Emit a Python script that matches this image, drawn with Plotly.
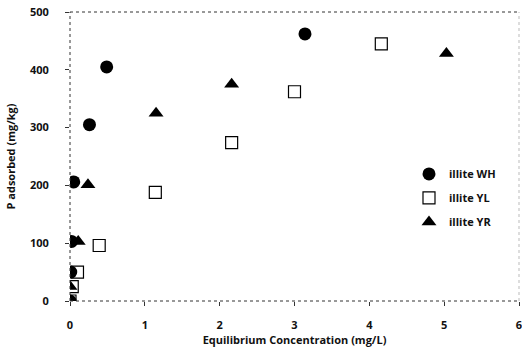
import plotly.graph_objects as go

# Data
wh_x = [0.0, 0.01, 0.02, 0.05, 0.26, 0.49, 3.14]
wh_y = [0, 50, 103, 206, 305, 405, 462]

yl_x = [0.0, 0.03, 0.10, 0.39, 1.14, 2.16, 3.00, 4.16]
yl_y = [0, 25, 50, 96, 188, 274, 362, 445]

yr_x = [0.0, 0.0, 0.11, 0.24, 1.15, 2.16, 5.03]
yr_y = [0, 25, 103, 201, 325, 375, 428]

series_names = ["illite WH", "illite YL", "illite YR"]
x_ticks = [0, 1, 2, 3, 4, 5, 6]
y_ticks = [0, 100, 200, 300, 400, 500]

FONT = "Open Sans"

fig = go.Figure()
fig.add_trace(go.Scatter(x=wh_x, y=wh_y, mode="markers", name=series_names[0],
                         legendgroup="a",
                         marker=dict(symbol="circle", size=13, color="black")))
fig.add_trace(go.Scatter(x=yl_x, y=yl_y, mode="markers", name=series_names[1],
                         legendgroup="b",
                         marker=dict(symbol="square-open", size=12, color="black",
                                     line=dict(width=1.2, color="black"))))
fig.add_trace(go.Scatter(x=yr_x, y=yr_y, mode="markers", name=series_names[2],
                         legendgroup="c",
                         marker=dict(symbol="triangle-up", size=13, color="black")))

axis_common = dict(showgrid=False, zeroline=False, showline=False,
                   ticks="outside", ticklen=4, tickcolor="#333",
                   ticklabeloverflow="allow", automargin=False,
                   tickfont=dict(family=FONT, size=11, color="#111", weight="bold"))

fig.update_layout(
    width=522, height=357,
    margin=dict(l=70, r=3, t=12, b=56),
    paper_bgcolor="white", plot_bgcolor="white",
    font=dict(family=FONT, color="#111"),
    xaxis=dict(range=[0, 6], tickvals=x_ticks, ticklabelstandoff=10,
               title=dict(text="Equilibrium Concentration (mg/L)", standoff=4,
                          font=dict(family=FONT, size=11, weight="bold", color="#111")),
               **axis_common),
    yaxis=dict(range=[0, 500], tickvals=y_ticks, ticklabelstandoff=14,
               title=dict(text="P adsorbed (mg/kg)", standoff=12,
                          font=dict(family=FONT, size=11, weight="bold", color="#111")),
               **axis_common),
    legend=dict(x=0.755, y=0.49, xanchor="left", yanchor="top",
                traceorder="grouped", tracegroupgap=5,
                itemwidth=30, bgcolor="rgba(0,0,0,0)",
                font=dict(family=FONT, size=11, weight="bold", color="#111")),
    shapes=[
        dict(type="line", xref="paper", yref="paper", x0=0, x1=0, y0=0, y1=1,
             line=dict(color="#333", width=1, dash="dot")),
        dict(type="line", xref="paper", yref="paper", x0=0, x1=1, y0=0, y1=0,
             line=dict(color="#333", width=1, dash="dot")),
        dict(type="line", xref="paper", yref="paper", x0=0, x1=1, y0=1, y1=1,
             line=dict(color="#333", width=1, dash="dot")),
        dict(type="line", xref="paper", yref="paper", x0=1, x1=1, y0=0, y1=1,
             line=dict(color="#bbb", width=1, dash="dot")),
    ],
)

fig.write_html("out.html",
               config={"displayModeBar": False},
               post_script="document.body.style.margin='0';")
